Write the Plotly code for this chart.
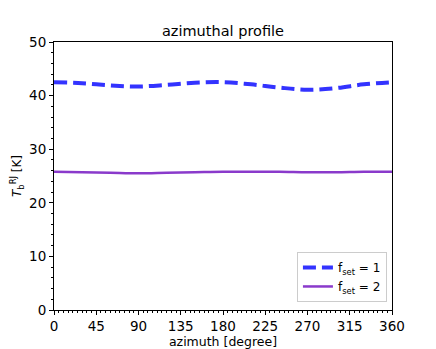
import plotly.graph_objects as go

# azimuth samples [degree]
azimuth = [0, 30, 60, 90, 120, 150, 180, 210, 240, 270, 300, 330, 360]
# brightness temperature [K]
tb_fset1 = [42.5, 42.3, 41.9, 41.7, 42.0, 42.4, 42.5, 42.1, 41.5, 41.1, 41.4, 42.1, 42.5]
tb_fset2 = [25.8, 25.7, 25.6, 25.5, 25.6, 25.7, 25.8, 25.8, 25.8, 25.7, 25.7, 25.8, 25.8]

x_ticks = [0, 45, 90, 135, 180, 225, 270, 315, 360]

fig = go.Figure()
fig.add_trace(go.Scatter(
    x=azimuth, y=tb_fset1, mode='lines', line_shape='spline',
    line=dict(color='#3333ff', width=4, dash='13px,6px'),
    name='f<sub>set</sub> = 1'
))
fig.add_trace(go.Scatter(
    x=azimuth, y=tb_fset2, mode='lines', line_shape='spline',
    line=dict(color='#8a3acb', width=2.5),
    name='f<sub>set</sub> = 2'
))

axis_common = dict(
    showgrid=False, zeroline=False, showline=True, mirror=True,
    linecolor='black', linewidth=1, ticks='outside', ticklen=4,
    tickcolor='black', tickfont=dict(size=13.5, color='black'),
    automargin=False,
)

# page body has an 8px margin, so the figure is sized to fit the window
fig.update_layout(
    width=428, height=341,
    margin=dict(l=46, r=44, t=34, b=39),
    paper_bgcolor='white', plot_bgcolor='white',
    font=dict(family='DejaVu Sans', size=12, color='black'),
    title=dict(text='azimuthal profile', x=0.5, xanchor='center', xref='paper',
               y=1, yref='paper', yanchor='bottom', pad=dict(b=6),
               font=dict(size=14.5)),
    xaxis=dict(range=[0, 360], tickvals=x_ticks,
               minor=dict(dtick=5, ticks='outside', ticklen=2, tickcolor='black'),
               title=dict(text='azimuth [degree]', font=dict(size=12.5), standoff=0),
               **axis_common),
    yaxis=dict(range=[0, 50], dtick=10,
               minor=dict(dtick=2, ticks='outside', ticklen=2, tickcolor='black'),
               title=dict(text='<i>T</i><sub>b</sub><sup>RJ</sup> [K]', font=dict(size=12), standoff=10),
               **axis_common),
    legend=dict(x=0.985, y=0.03, xanchor='right', yanchor='bottom',
                bordercolor='#cccccc', borderwidth=1, bgcolor='white',
                font=dict(size=12), tracegroupgap=0, itemwidth=30),
)

fig.write_html("out.html")
